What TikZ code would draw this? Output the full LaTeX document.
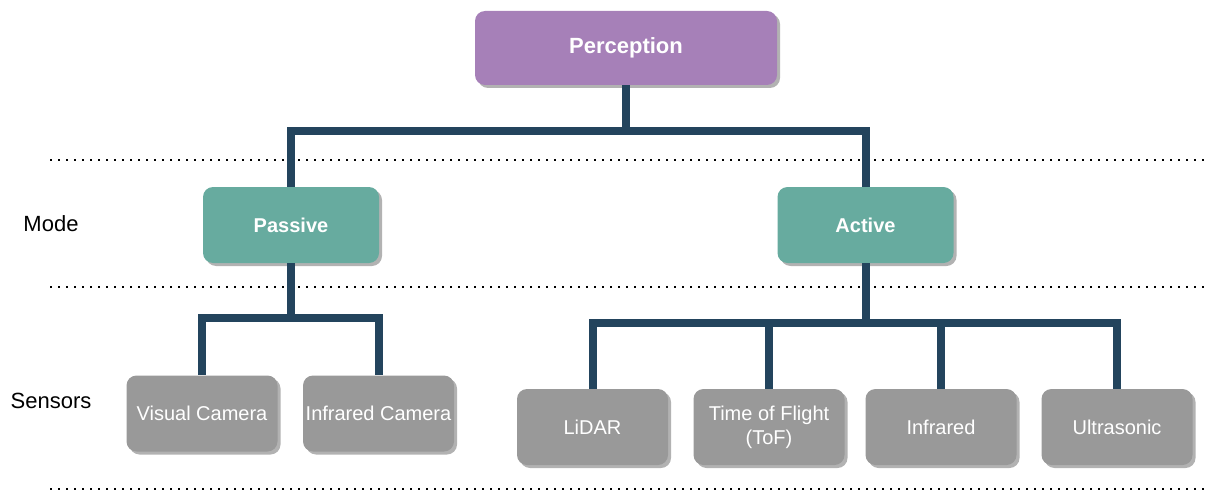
\documentclass[tikz,border=0pt]{standalone}
\usepackage{fontspec}
\setmainfont{Liberation Sans}
\usetikzlibrary{shadows}
\definecolor{percfill}{HTML}{A680B8}
\definecolor{modefill}{HTML}{67AB9F}
\definecolor{sensfill}{HTML}{999999}
\definecolor{connblue}{HTML}{23445D}
\begin{document}
\begin{tikzpicture}[x=1pt,y=-1pt,
  box/.style={rectangle, rounded corners=10pt, inner sep=0pt, text=white, align=center,
    drop shadow={shadow xshift=3pt, shadow yshift=-3pt, opacity=0.3, fill=black}},
  rootbox/.style={box, fill=percfill, minimum width=302pt, minimum height=74pt,
    font=\fontsize{22}{26}\selectfont\bfseries},
  modebox/.style={box, fill=modefill, minimum width=176pt, minimum height=76pt,
    font=\fontsize{20}{24}\selectfont\bfseries},
  sensbox/.style={box, fill=sensfill, minimum width=151pt, minimum height=76pt,
    font=\fontsize{20}{24}\selectfont},
  conn/.style={draw=connblue, line width=8pt, line join=miter},
  levelline/.style={line width=2pt, dash pattern=on 2pt off 6pt},
  levellabel/.style={font=\fontsize{22}{26}\selectfont, text=black}]
\useasboundingbox (0,0) rectangle (1206,492);

% level separators
\draw[levelline] (50,160) -- (1206,160);
\draw[levelline] (50,287) -- (1206,287);
\draw[levelline] (50,489) -- (1206,489);

% level labels
\node[levellabel] (lmode) at (51,224) {Mode};
\node[levellabel] (lsens) at (51,401) {Sensors};

% root
\node[rootbox] (perc) at (626,48) {Perception};

% modes
\node[modebox] (pass) at (291,225) {Passive};
\node[modebox] (act) at (865.5,225) {Active};

% passive sensors
\node[sensbox] (vis) at (202,413.5) {Visual Camera};
\node[sensbox] (irc) at (378.5,413.5) {Infrared Camera};

% active sensors
\node[sensbox] (lidar) at (592.5,427) {LiDAR};
\node[sensbox] (tof) at (769,427) {Time of Flight\\(ToF)};
\node[sensbox] (ir) at (941,427) {Infrared};
\node[sensbox] (us) at (1117,427) {Ultrasonic};

% tree connectors
\draw[conn] (perc.south) -- ++(0,46) -| (pass.north);
\draw[conn] (perc.south) -- ++(0,46) -| (act.north);

\draw[conn] (pass.south) -- ++(0,55) -| (vis.north);
\draw[conn] (pass.south) -- ++(0,55) -| (irc.north);

\draw[conn] (act.south) -- ++(0,60) -| (lidar.north);
\draw[conn] (act.south) -- ++(0,60) -| (tof.north);
\draw[conn] (act.south) -- ++(0,60) -| (ir.north);
\draw[conn] (act.south) -- ++(0,60) -| (us.north);
\end{tikzpicture}
\end{document}
